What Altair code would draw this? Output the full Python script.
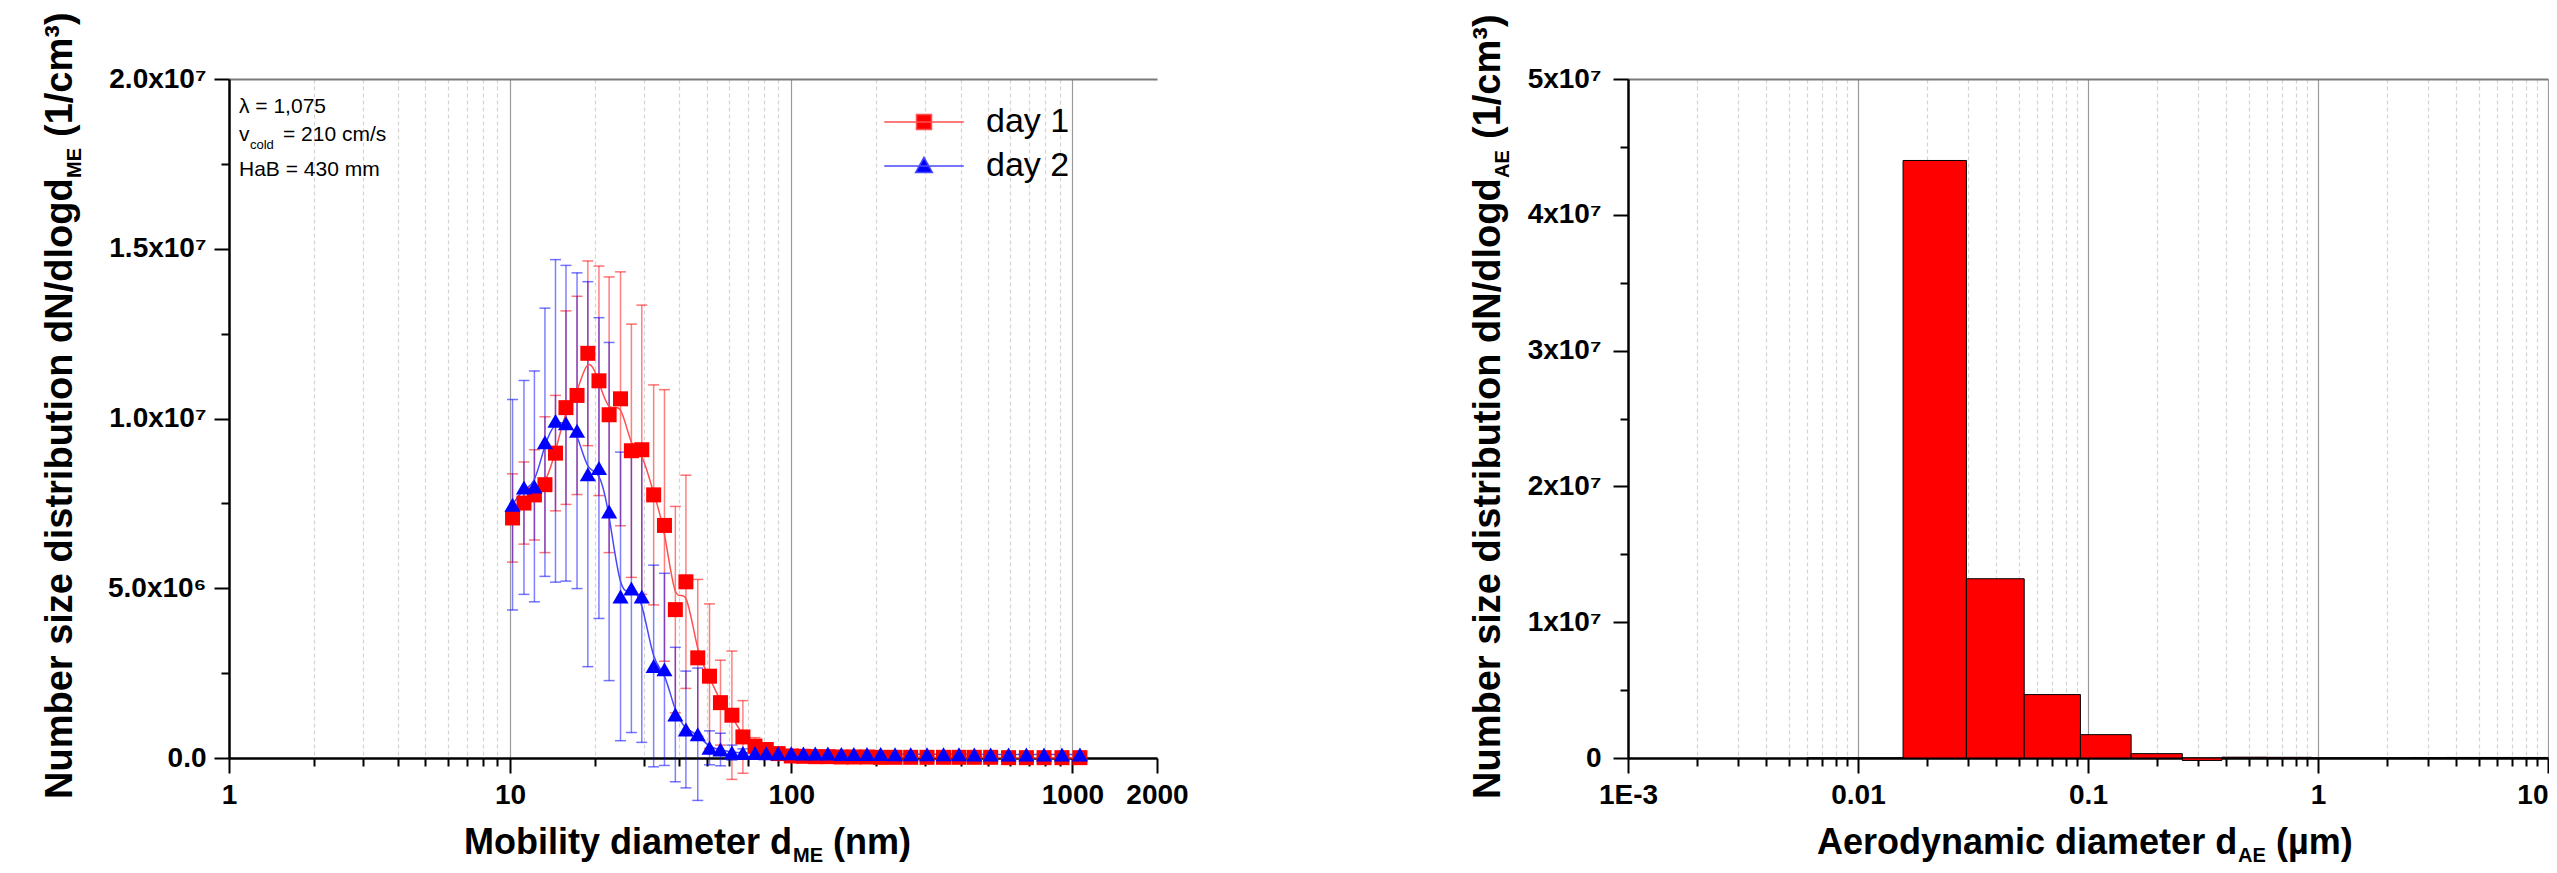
import altair as alt
import pandas as pd

FONT = "Liberation Sans, Arial, Helvetica, sans-serif"

# ---------------- data: left panel (mobility diameter, nm) values in 1e6 1/cm3
d_me = [10.2, 11.2, 12.2, 13.3, 14.5, 15.8, 17.3, 18.9, 20.7, 22.5, 24.7, 27.0, 29.4,
        32.4, 35.4, 38.7, 42.2, 46.5, 51.2, 56.0, 61.5, 67.3, 74.3, 81.5, 89.8, 100,
        110.5, 121.7, 135, 150.7, 167, 186, 208, 234, 266, 304, 348, 395, 448, 512,
        593, 686, 793, 918, 1064]
day1 = [7.07, 7.51, 7.75, 8.05, 8.98, 10.32, 10.68, 11.92, 11.11, 10.11, 10.58, 9.05,
        9.08, 7.75, 6.85, 4.37, 5.19, 2.95, 2.41, 1.63, 1.26, 0.62, 0.35, 0.25, 0.13,
        0.06, 0.05, 0.04, 0.04, 0.03, 0.03, 0.03, 0.02, 0.02, 0.02, 0.02, 0.02, 0.02,
        0.02, 0.02, 0.01, 0.01, 0.01, 0.01, 0.01]
day1_err = [1.30, 1.21, 1.33, 2.00, 1.70, 2.85, 2.92, 2.72, 3.38, 4.06, 3.74, 3.73,
            4.26, 3.24, 4.00, 3.04, 3.14, 2.31, 2.13, 1.25, 1.89, 1.07, 0.25, 0.17,
            0.08, 0.06, 0.05, 0.05, 0.04, 0.04, 0.03, 0.03, 0.03, 0.03, 0.02, 0.02,
            0.02, 0.02, 0.02, 0.02, 0.02, 0.02, 0.02, 0.02, 0.02]
day2 = [7.46, 7.97, 8.00, 9.30, 9.93, 9.86, 9.64, 8.36, 8.54, 7.26, 4.76, 4.99, 4.76,
        2.71, 2.61, 1.28, 0.84, 0.70, 0.30, 0.25, 0.16, 0.15, 0.15, 0.14, 0.14, 0.14,
        0.13, 0.13, 0.13, 0.12, 0.12, 0.12, 0.12, 0.11, 0.11, 0.11, 0.11, 0.11, 0.10,
        0.10, 0.10, 0.10, 0.10, 0.10, 0.10]
day2_err = [3.10, 3.15, 3.40, 3.95, 4.75, 4.65, 4.65, 5.67, 4.43, 4.98, 4.25, 4.24,
            4.30, 2.97, 2.83, 1.98, 1.72, 1.95, 0.50, 0.48, 0.22, 0.12, 0.10, 0.10,
            0.09, 0.08, 0.08, 0.07, 0.07, 0.06, 0.06, 0.06, 0.05, 0.05, 0.05, 0.05,
            0.05, 0.05, 0.05, 0.05, 0.05, 0.05, 0.05, 0.05, 0.05]
series_names = ["day 1", "day 2"]

# ---------------- data: right panel (aerodynamic diameter, um) values in 1e6 1/cm3
stage_lo = [0.006, 0.0157, 0.0296, 0.0528, 0.0927, 0.154, 0.257, 0.382, 0.60, 0.94, 1.6, 2.5, 3.6, 5.3]
stage_hi = [0.0157, 0.0296, 0.0528, 0.0927, 0.154, 0.257, 0.382, 0.60, 0.94, 1.6, 2.5, 3.6, 5.3, 10.0]
stage_val = [0.0, 44.0, 13.2, 4.67, 1.72, 0.32, -0.18, 0.06, 0.05, 0.005, 0.005, 0.03, 0.04, 0.04]

rows = []
for name, vals, errs in (("day 1", day1, day1_err), ("day 2", day2, day2_err)):
    for d, v, e in zip(d_me, vals, errs):
        rows.append({"d": d, "v": v * 1e6, "lo": (v - e) * 1e6, "hi": (v + e) * 1e6, "series": name})
df = pd.DataFrame(rows)

bars = pd.DataFrame({"lo": stage_lo, "hi": stage_hi,
                     "v": [v * 1e6 for v in stage_val], "base": [0.0] * len(stage_val)})

# ---------------- geometry
W1, W2, H = 928, 920, 679

MAJ_LOG = "abs(log(datum.value)/LN10 - round(log(datum.value)/LN10)) < 0.001"

common_axis = dict(
    domainColor="black", domainWidth=2.5, tickColor="black", tickWidth=2,
    labelFont=FONT, labelFontSize=28, labelFontWeight="bold", labelColor="black",
    labelOverlap=False, labelFlush=False, labelBound=False, title=None,
)

# left x
x1_ticks = [m * 10 ** e for e in (0, 1, 2) for m in range(1, 10)] + [1000, 2000]
x1_major = f"({MAJ_LOG}) || datum.value == 2000"
x1_axis = alt.Axis(
    values=x1_ticks,
    labelExpr=f"({x1_major}) ? format(datum.value, 'd') : ''",
    tickSize={"condition": {"test": x1_major, "value": 15}, "value": 8},
    grid=True,
    gridColor={"condition": {"test": MAJ_LOG, "value": "#9a9a9a"}, "value": "#d4d4d4"},
    gridDash={"condition": {"test": MAJ_LOG, "value": []}, "value": [4, 3]},
    gridOpacity={"condition": {"test": "datum.value == 2000 || datum.value == 1", "value": 0}, "value": 1},
    gridWidth=1.2, labelPadding=8, **common_axis)
x1_scale = alt.Scale(type="log", domain=[1, 2000], nice=False)

def X1(field):
    return alt.X(field, scale=x1_scale, axis=x1_axis)

# left y
y1_ticks = [i * 2.5e6 for i in range(9)]
y1_axis = alt.Axis(
    values=y1_ticks,
    labelExpr=("datum.value % 5000000 != 0 ? '' : datum.value == 0 ? '0.0' : "
               "datum.value == 5000000 ? '5.0x10\u2076' : datum.value == 10000000 ? '1.0x10\u2077' : "
               "datum.value == 15000000 ? '1.5x10\u2077' : '2.0x10\u2077'"),
    tickSize={"condition": {"test": "datum.value % 5000000 == 0", "value": 15}, "value": 8},
    grid=True, gridColor="#7a7a7a", gridWidth=2,
    gridOpacity={"condition": {"test": "datum.value == 20000000", "value": 1}, "value": 0},
    labelPadding=8, **common_axis)
y1_scale = alt.Scale(domain=[0, 2e7], nice=False, zero=True)

def Y1(field):
    return alt.Y(field, scale=y1_scale, axis=y1_axis)

# right x
x2_ticks = [m * 10 ** e for e in (-3, -2, -1, 0) for m in range(1, 10)] + [10]
x2_axis = alt.Axis(
    values=x2_ticks,
    labelExpr=(f"!({MAJ_LOG}) ? '' : datum.value < 0.002 ? '1E-3' : datum.value < 0.02 ? '0.01' : "
               "datum.value < 0.2 ? '0.1' : datum.value < 2 ? '1' : '10'"),
    labelAlign={"condition": {"test": "datum.value > 5", "value": "right"}, "value": "center"},
    tickSize={"condition": {"test": MAJ_LOG, "value": 15}, "value": 8},
    grid=True,
    gridColor={"condition": {"test": MAJ_LOG, "value": "#9a9a9a"}, "value": "#d4d4d4"},
    gridDash={"condition": {"test": MAJ_LOG, "value": []}, "value": [4, 3]},
    gridOpacity={"condition": {"test": "datum.value < 0.0015", "value": 0}, "value": 1},
    gridWidth=1.2, labelPadding=8, **common_axis)
x2_scale = alt.Scale(type="log", domain=[0.001, 10], nice=False)

y2_ticks = [i * 5e6 for i in range(11)]
y2_axis = alt.Axis(
    values=y2_ticks,
    labelExpr=("datum.value % 10000000 != 0 ? '' : datum.value == 0 ? '0' : "
               "(datum.value / 10000000) + 'x10\u2077'"),
    tickSize={"condition": {"test": "datum.value % 10000000 == 0", "value": 15}, "value": 8},
    grid=True, gridColor="#7a7a7a", gridWidth=2,
    gridOpacity={"condition": {"test": "datum.value == 50000000", "value": 1}, "value": 0},
    labelPadding=12, **common_axis)
y2_scale = alt.Scale(domain=[0, 5e7], nice=False, zero=True)


def txt(s, x, y, size, weight="normal", angle=0):
    return alt.Chart(pd.DataFrame({"t": [s]})).mark_text(
        font=FONT, fontSize=size, fontWeight=weight, angle=angle, align="left",
        baseline="alphabetic", color="black"
    ).encode(x=alt.value(x), y=alt.value(y), text="t:N")


# ---------------- left panel layers
anchor = alt.Chart(pd.DataFrame({"a": [0]})).mark_rule(color="white", strokeWidth=1).encode(
    x=alt.value(-220), y=alt.value(-70), y2=alt.value(-66))

layers = [anchor]
styles = {"day 1": ("#ff0000", "#ff5050", "square", 225),
          "day 2": ("#0000ff", "#4848ff", "triangle-up", 260)}
for name in series_names:
    col, lcol, shp, sz = styles[name]
    base = alt.Chart(df).transform_filter(alt.datum.series == name)
    layers.append(base.mark_rule(color=col, strokeWidth=1.5, opacity=0.5).encode(
        x=X1("d:Q"), y=Y1("lo:Q"), y2="hi:Q"))
    layers.append(base.mark_tick(color=col, orient="horizontal", size=11, thickness=1.5, opacity=0.55).encode(
        x=X1("d:Q"), y=Y1("hi:Q")))
    layers.append(base.mark_tick(color=col, orient="horizontal", size=11, thickness=1.5, opacity=0.55).encode(
        x=X1("d:Q"), y=Y1("lo:Q")))
for name in series_names:
    col, lcol, shp, sz = styles[name]
    base = alt.Chart(df).transform_filter(alt.datum.series == name)
    layers.append(base.mark_line(color=lcol, strokeWidth=1.5, interpolate="basis").encode(
        x=X1("d:Q"), y=Y1("v:Q")))
for name in series_names:
    col, lcol, shp, sz = styles[name]
    base = alt.Chart(df).transform_filter(alt.datum.series == name)
    layers.append(base.mark_point(filled=True, shape=shp, size=sz, color=col, opacity=1).encode(
        x=X1("d:Q"), y=Y1("v:Q")))

# legend (line + marker symbols)
leg = alt.Legend(title=None, orient="none", legendX=678, legendY=26, symbolSize=225,
                 symbolOpacity=1, symbolStrokeWidth=1.5, labelFont=FONT, labelFontSize=34,
                 labelColor="black", labelOffset=45, rowPadding=10, padding=0)
legend_paths = ["M-5.3,0H5.3M-1,-1H1V1H-1Z", "M-5.3,0H5.3M0,-1.15L1.12,0.85L-1.12,0.85Z"]
legend_layer = alt.Chart(df).mark_point(filled=True, opacity=0).encode(
    x=X1("d:Q"), y=Y1("v:Q"),
    fill=alt.Fill("series:N", scale=alt.Scale(domain=series_names, range=["#ff0000", "#0000ff"]), legend=leg),
    stroke=alt.Stroke("series:N", scale=alt.Scale(domain=series_names, range=["#ff5050", "#4848ff"]), legend=leg),
    shape=alt.Shape("series:N", scale=alt.Scale(domain=series_names, range=legend_paths), legend=leg),
)
layers.append(legend_layer)

# annotation
layers += [
    txt("\u03bb = 1,075", 10, 34, 21),
    txt("v", 10, 62, 21),
    txt("cold", 21, 70, 13),
    txt("= 210 cm/s", 54, 62, 21),
    txt("HaB = 430 mm", 10, 97, 21),
]
# axis titles (composed, with subscripts)
layers += [
    txt("Number size distribution dN/dlogd", -157, 720, 38, "bold", 270),
    txt("ME", -148, 99, 20, "bold", 270),
    txt("(1/cm\u00b3)", -157, 58, 38, "bold", 270),
    txt("Mobility diameter d", 235, 775, 36, "bold"),
    txt("ME", 564, 783, 20, "bold"),
    txt("(nm)", 604, 775, 36, "bold"),
]
left = alt.layer(*layers).properties(width=W1, height=H)

# ---------------- right panel
rbars = alt.Chart(bars).mark_rect(fill="#ff0000", stroke="black", strokeWidth=1).encode(
    x=alt.X("lo:Q", scale=x2_scale, axis=x2_axis), x2="hi:Q",
    y=alt.Y("v:Q", scale=y2_scale, axis=y2_axis), y2="base:Q")
right = alt.layer(
    rbars,
    txt("Number size distribution dN/dlogd", -128, 720, 38, "bold", 270),
    txt("AE", -119, 99, 20, "bold", 270),
    txt("(1/cm\u00b3)", -128, 60, 38, "bold", 270),
    txt("Aerodynamic diameter d", 189, 775, 36, "bold"),
    txt("AE", 610, 783, 20, "bold"),
    txt("(\u00b5m)", 648, 775, 36, "bold"),
).properties(width=W2, height=H)

chart = alt.hconcat(left, right, spacing=471, bounds="flush").resolve_scale(
    fill="independent", stroke="independent", shape="independent").resolve_legend(
    fill="independent", stroke="independent", shape="independent").properties(
    padding=0).configure_view(stroke=None)

chart.save("out.html", embed_options={"renderer": "svg", "actions": False})
